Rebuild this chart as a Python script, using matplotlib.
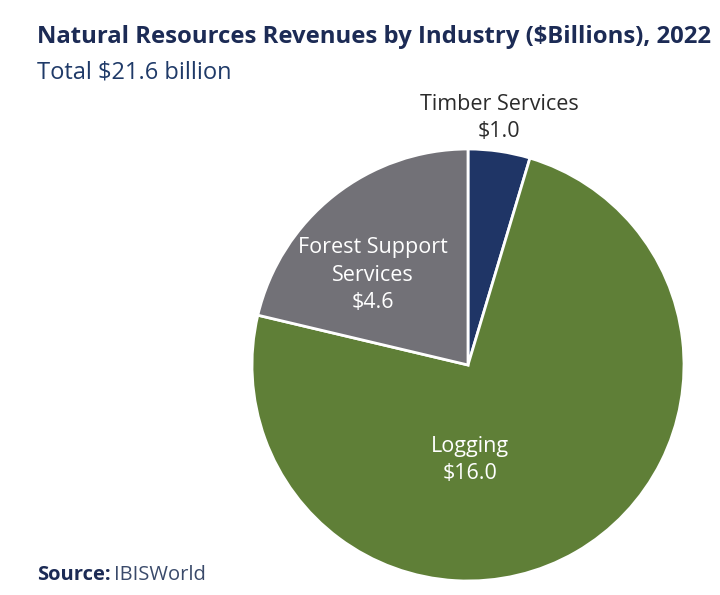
import numpy as np
import matplotlib.pyplot as plt

plt.rcParams['font.family'] = ['Open Sans', 'DejaVu Sans']

# data
industries = ["Timber Services", "Logging", "Forest Support\nServices"]
revenues = [1.0, 16.0, 4.6]
colors = ["#1f3566", "#5f7f37", "#727177"]
text_colors = ["#2b2b2b", "white", "white"]
# label positions (data coords of pie axes, radius 1)
label_pos = [(0.143, 1.143), (0.01, -0.44), (-0.44, 0.415)]

fig = plt.figure(figsize=(7.2, 5.95), dpi=100)
ax = fig.add_axes([252/720, 14/595, 432/720, 432/595])

wedges, _ = ax.pie(revenues, colors=colors, startangle=90, counterclock=False,
                   wedgeprops=dict(edgecolor="white", linewidth=2))
ax.set_xlim(-1, 1)
ax.set_ylim(-1, 1)
ax.set_aspect("equal")
ax.axis("off")

for name, val, (x, y), tc in zip(industries, revenues, label_pos, text_colors):
    ax.text(x, y, "{}\n${:.1f}".format(name, val), ha="center", va="center",
            fontsize=15.5, color=tc, linespacing=1.4, clip_on=False)

fig.text(37/720, 1 - 37/595, "Natural Resources Revenues by Industry ($Billions), 2022",
         fontsize=17.2, fontweight="bold", color="#1c2b55", va="center", ha="left")
fig.text(37/720, 1 - 72/595, "Total $21.6 billion", fontsize=17, color="#1f3a68",
         va="center", ha="left")
fig.text(37/720, 1 - 575/595, "Source:", fontsize=14.5, fontweight="bold", color="#1c2b55",
         va="center", ha="left")
fig.text(114/720, 1 - 575/595, "IBISWorld", fontsize=14.5, color="#3a4a6a",
         va="center", ha="left")

fig.savefig("out.png", dpi=100, facecolor="white")
